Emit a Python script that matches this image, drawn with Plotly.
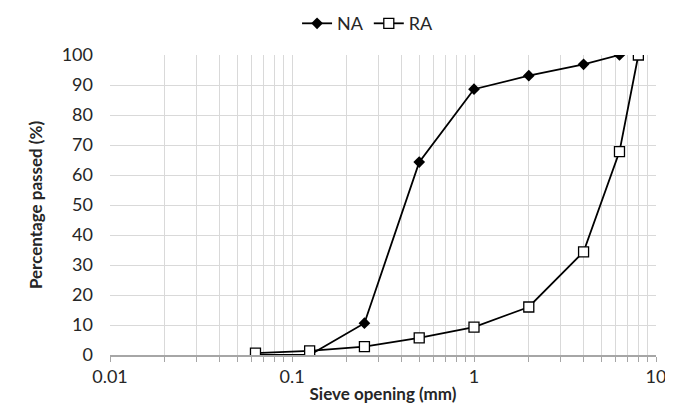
import plotly.graph_objects as go

sieve_na = [0.063, 0.125, 0.25, 0.5, 1, 2, 4, 6.3]
passed_na = [0, 0, 10.6, 64.3, 88.6, 93.1, 96.9, 100]
sieve_ra = [0.063, 0.125, 0.25, 0.5, 1, 2, 4, 6.3, 8]
passed_ra = [0.6, 1.4, 2.8, 5.7, 9.3, 16.0, 34.4, 67.8, 100]

x_tickvals = [0.01, 0.1, 1, 10]
x_ticktext = ["0.01", "0.1", "1", "10"]

FONT = "Lato"

fig = go.Figure()
fig.add_trace(go.Scatter(
    x=sieve_na, y=passed_na, name="NA", mode="lines+markers",
    line=dict(color="#000000", width=1.8),
    marker=dict(symbol="diamond", size=9, color="#000000"),
))
fig.add_trace(go.Scatter(
    x=sieve_ra, y=passed_ra, name="RA", mode="lines+markers",
    line=dict(color="#000000", width=1.8),
    marker=dict(symbol="square", size=10, color="#ffffff",
                line=dict(color="#000000", width=1.3)),
))

fig.update_layout(
    width=673, height=411,
    margin=dict(l=102, r=25, t=47, b=64, autoexpand=False),
    paper_bgcolor="white", plot_bgcolor="white",
    font=dict(family=FONT, size=18, color="#262626"),
    showlegend=True,
    legend=dict(orientation="h", x=0.535, xanchor="center", y=0.962, yanchor="middle",
                xref="container", yref="container", font=dict(size=18),
                traceorder="normal", bgcolor="rgba(0,0,0,0)"),
    xaxis=dict(
        type="log", range=[-2, 1],
        tickvals=x_tickvals, ticktext=x_ticktext,
        showgrid=True, gridcolor="#d9d9d9", gridwidth=1.3,
        showline=True, linecolor="#a6a6a6", linewidth=1.5,
        ticks="outside", ticklen=5, tickcolor="#a6a6a6", tickwidth=1.3,
        minor=dict(dtick="D1", showgrid=True, gridcolor="#d9d9d9", gridwidth=1.3,
                   ticks="outside", ticklen=5, tickcolor="#a6a6a6", tickwidth=1.3),
        title=dict(text="<b>Sieve opening (mm)</b>", standoff=2,
                   font=dict(size=17, color="#262626")),
        zeroline=False,
    ),
    yaxis=dict(
        range=[0, 100], dtick=10,
        showgrid=True, gridcolor="#d9d9d9", gridwidth=1.3,
        showline=False, ticks="", ticklabelstandoff=16,
        title=dict(text="<b>Percentage passed (%)</b>", standoff=14,
                   font=dict(size=17, color="#262626")),
        zeroline=False,
    ),
)

fig.write_html("out.html")
